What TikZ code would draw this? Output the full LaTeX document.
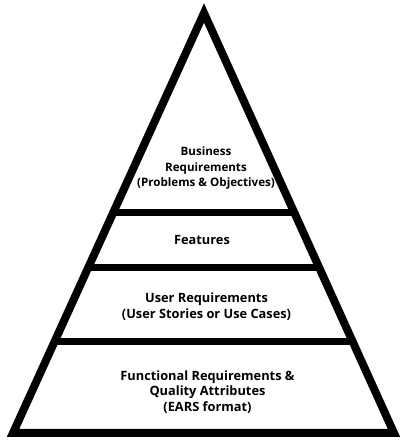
\documentclass[tikz,border=0pt]{standalone}
\usepackage{fontspec}
\setmainfont{Open Sans}
\usetikzlibrary{calc}
\begin{document}
\begin{tikzpicture}[x=1pt,y=1pt,
  outline/.style={line width=8pt, line join=miter},
  divider/.style={line width=7pt},
  label/.style={align=center, font=\bfseries\fontsize{12.8}{15.5}\selectfont, inner sep=0pt},
  smalllabel/.style={label, font=\bfseries\fontsize{11.6}{15.3}\selectfont}]
\useasboundingbox (0,0) rectangle (401,441);
\coordinate (A) at (204,428);
\coordinate (BL) at (13,8);
\coordinate (BR) at (394,8);
\draw[divider] ($(BL)!0.526!(A)$) -- ($(BR)!0.526!(A)$);
\draw[divider] ($(BL)!0.393!(A)$) -- ($(BR)!0.393!(A)$);
\draw[divider] ($(BL)!0.219!(A)$) -- ($(BR)!0.219!(A)$);
\draw[outline] (A) -- (BL) -- (BR) -- cycle;
\node[smalllabel] (biz) at (206,273) {Business\\Requirements\\(Problems \& Objectives)};
\node[label] (feat) at (202,201) {Features};
\node[label] (user) at (206.5,134.5) {User Requirements\\(User Stories or Use Cases)};
\node[label] (func) at (207.5,49) {Functional Requirements \&\\Quality Attributes\\(EARS format)};
\end{tikzpicture}
\end{document}
